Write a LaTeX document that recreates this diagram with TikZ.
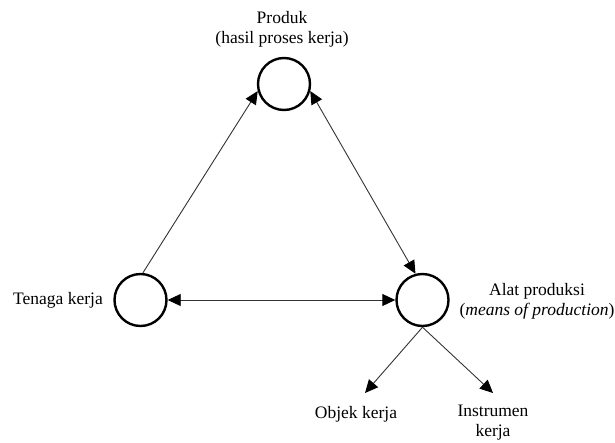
\documentclass[tikz,border=0pt]{standalone}
\usepackage{fontspec}
\setmainfont{Liberation Serif}
\usetikzlibrary{arrows.meta}
\begin{document}
\begin{tikzpicture}[x=1pt,y=-1pt,
  circ/.style={circle,draw,line width=2.4pt,minimum size=52pt,inner sep=0pt},
  lbl/.style={font=\fontsize{17.5}{20}\selectfont,align=center,inner sep=0pt},
  conn/.style={line width=0.9pt,draw=black!80},
  tip/.style={-{Triangle[length=13pt,width=12pt,color=black]}},
  tips/.style={{Triangle[length=13pt,width=12pt,color=black]}-{Triangle[length=13pt,width=12pt,color=black]}}]
\useasboundingbox (0,0) rectangle (615,442);
\node[circ] (t) at (284,84) {};
\node[circ] (l) at (140.5,300) {};
\node[circ] (r) at (422.5,300) {};
\node[lbl] (tl) at (282,29) {Produk\\(hasil proses kerja)};
\node[lbl] (ll) at (58,300) {Tenaga kerja};
\node[lbl] (rl) at (537,301) {Alat produksi\\(\textit{means of production})};
\node[lbl] (ol) at (356,414) {Objek kerja};
\node[lbl] (il) at (493,423) {Instrumen\\kerja};
\coordinate (ot) at (365,393);
\coordinate (it) at (493,393);
\draw[conn,tip] (l.85) -- (t.195);
\draw[conn,tips] (t.345) -- (r.105);
\draw[conn,tips] (l.east) -- (r.west);
\draw[conn,tip] (r.south) -- (ot);
\draw[conn,tip] (r.south) -- (it);
\end{tikzpicture}
\end{document}
